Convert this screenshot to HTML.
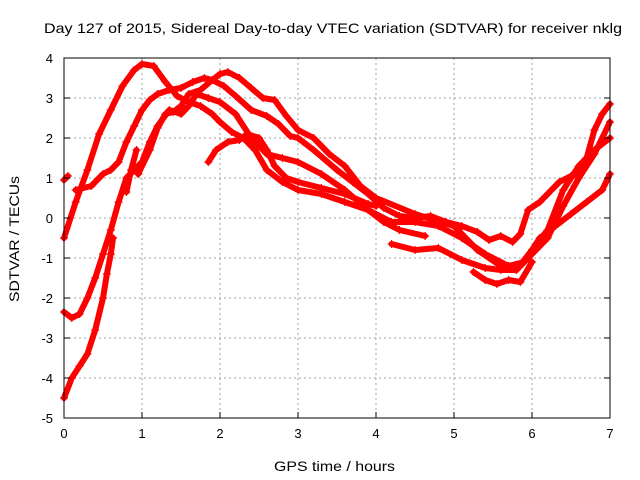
<!DOCTYPE html>
<html><head><meta charset="utf-8"><style>
html,body{margin:0;padding:0;background:#fff}
svg{display:block;font-family:"Liberation Sans",sans-serif}
</style></head><body>
<svg id="chart" width="640" height="480">
<rect width="640" height="480" fill="#fff"/>
<text x="44" y="33" font-size="14" textLength="578" lengthAdjust="spacingAndGlyphs">Day 127 of 2015, Sidereal Day-to-day VTEC variation (SDTVAR) for receiver nklg</text>
<g id="grid"></g>
<g id="series"></g>
<rect x="64" y="58" width="546" height="360" fill="none" stroke="#000" stroke-width="1"/>
<g id="ticks"></g>
<text x="274" y="471" font-size="14" textLength="121" lengthAdjust="spacingAndGlyphs">GPS time / hours</text>
<text x="0" y="0" font-size="14" textLength="126" lengthAdjust="spacingAndGlyphs" transform="translate(19 302) rotate(-90)">SDTVAR / TECUs</text>
</svg>
<script>
const xTicks=[0,1,2,3,4,5,6,7];
const yTicks=[-5,-4,-3,-2,-1,0,1,2,3,4];
const s1=[[0,-0.5],[0.15,0.4],[0.3,1.2],[0.45,2.1],[0.6,2.7],[0.75,3.3],[0.9,3.7],[1.0,3.85],[1.15,3.8],[1.3,3.4],[1.45,3.05],[1.6,2.9],[1.75,2.8],[1.9,2.6],[2.0,2.4],[2.15,2.15],[2.3,2.0],[2.45,1.7],[2.6,1.2],[2.8,0.9],[3.0,0.7],[3.3,0.6],[3.6,0.4],[3.9,0.2],[4.1,-0.1],[4.3,-0.3],[4.63,-0.45]];
const s2=[[0.15,0.7],[0.35,0.8],[0.5,1.1],[0.6,1.2],[0.7,1.4],[0.8,1.9],[0.9,2.3],[1.0,2.7],[1.1,2.95],[1.2,3.1],[1.35,3.2],[1.5,3.25],[1.65,3.4],[1.8,3.5],[1.9,3.45],[2.05,3.3],[2.2,3.05],[2.4,2.7],[2.6,2.55],[2.75,2.35],[2.9,2.05],[3.0,2.0],[3.2,1.7],[3.5,1.2],[3.7,0.9],[3.9,0.6],[4.1,0.25],[4.3,0.05],[4.5,0.0],[4.7,0.05],[4.9,-0.1],[5.1,-0.2],[5.3,-0.35],[5.45,-0.55],[5.6,-0.45],[5.75,-0.6],[5.85,-0.4],[5.95,0.2],[6.1,0.4],[6.2,0.6],[6.35,0.9],[6.5,1.05],[6.6,1.1],[6.7,1.5],[6.8,2.2],[6.9,2.6],[7.0,2.85]];
const s3=[[0.95,1.1],[1.1,1.7],[1.2,2.25],[1.3,2.6],[1.4,2.65],[1.5,2.8],[1.6,3.1],[1.75,3.2],[1.9,3.45],[2.0,3.6],[2.1,3.65],[2.25,3.5],[2.4,3.25],[2.55,3.0],[2.7,2.95],[2.85,2.55],[3.0,2.2],[3.2,2.0],[3.4,1.6],[3.6,1.3],[3.8,0.8],[4.0,0.5],[4.5,0.1],[5.0,-0.2],[5.3,-0.8],[5.6,-1.2],[5.8,-1.3],[6.0,-0.9],[6.2,-0.5],[6.4,0.3],[6.6,1.0],[6.8,1.6],[7.0,2.4]];
const s4=[[0,-2.35],[0.1,-2.5],[0.2,-2.4],[0.3,-2.0],[0.4,-1.5],[0.5,-0.9],[0.6,-0.3],[0.7,0.4],[0.8,1.0],[0.9,1.2],[1.0,1.4],[1.1,1.9],[1.2,2.3],[1.35,2.7],[1.5,2.6],[1.6,2.8],[1.7,3.1],[1.85,3.0],[2.0,2.9],[2.2,2.6],[2.4,2.0],[2.6,1.6],[2.8,1.5],[3.0,1.4],[3.3,1.1],[3.6,0.7],[3.9,0.2],[4.2,-0.1],[4.5,-0.1],[4.8,-0.2],[5.1,-0.5],[5.4,-0.9],[5.7,-1.2],[5.9,-1.1],[6.1,-0.5],[6.3,-0.2],[6.5,0.1],[6.7,0.4],[6.9,0.7],[7.0,1.1]];
const s5=[[0,-4.5],[0.1,-4.0],[0.2,-3.7],[0.3,-3.4],[0.4,-2.8],[0.5,-2.0],[0.55,-1.4],[0.6,-0.9],[0.63,-0.5]];
const s6=[[0.8,0.65],[0.86,1.2],[0.93,1.7]];
const s7=[[1.85,1.4],[1.95,1.7],[2.1,1.9],[2.25,1.95],[2.35,2.1],[2.5,2.0],[2.6,1.7],[2.7,1.3],[2.85,1.0],[3.0,0.9],[3.3,0.75],[3.6,0.6],[3.9,0.35],[4.0,0.3]];
const s8=[[4.2,-0.65],[4.5,-0.8],[4.8,-0.75],[5.1,-1.05],[5.4,-1.25],[5.6,-1.3],[5.8,-1.3],[6.0,-0.8],[6.2,-0.3],[6.4,0.7],[6.6,1.3],[6.8,1.7],[7.0,2.0]];
const s9=[[5.25,-1.35],[5.4,-1.55],[5.55,-1.65],[5.7,-1.55],[5.85,-1.6],[6.0,-1.1]];
const s10=[[0,0.95],[0.05,1.05]];
const allSeries=[s1,s2,s3,s4,s5,s6,s7,s8,s9,s10];

const X0=64,X1=610,Y0=418,Y1=58;
function xs(h){return X0+(h-0)/(7-0)*(X1-X0);}
function ys(v){return Y0-(v-(-5))/(4-(-5))*(Y0-Y1);}
const NS="http://www.w3.org/2000/svg";
const grid=document.getElementById('grid'),ticks=document.getElementById('ticks'),ser=document.getElementById('series');
function mk(tag,attrs,parent){const e=document.createElementNS(NS,tag);for(const k in attrs)e.setAttribute(k,attrs[k]);parent.appendChild(e);return e;}
xTicks.forEach(t=>{
  const x=xs(t);
  if(t>0&&t<7){const g=mk('line',{x1:x,x2:x,y1:Y1,y2:Y0,stroke:'#a0a0a0','stroke-dasharray':'2,3'},grid);
  
  }
  const tl=mk('line',{x1:x,x2:x,y1:Y0,y2:Y0-6,stroke:'#000'},ticks);
  
  
  const tx=mk('text',{x:x,y:Y0+20,'font-size':13,'text-anchor':'middle'},ticks);tx.textContent=t;
  
  
});
yTicks.forEach(t=>{
  const y=ys(t);
  if(t>-5&&t<4){const g=mk('line',{x1:X0,x2:X1,y1:y,y2:y,stroke:'#a0a0a0','stroke-dasharray':'2,3'},grid);
  
  }
  const tl=mk('line',{x1:X0,x2:X0+6,y1:y,y2:y,stroke:'#000'},ticks);
  
  
  const tr=mk('line',{x1:X1,x2:X1-6,y1:y,y2:y,stroke:'#000'},ticks);
  
  
  const tx=mk('text',{x:X0-11,y:y+5,'font-size':13,'text-anchor':'end'},ticks);tx.textContent=t;
  
  
});
allSeries.forEach((s,i)=>{
  const d=s.map((p,j)=>(j?'L':'M')+xs(p[0]).toFixed(1)+' '+ys(p[1]).toFixed(1)).join(' ');
  const path=mk('path',{d:d,fill:'none',stroke:'#ff0000','stroke-width':6,'stroke-linejoin':'round','stroke-linecap':'round'},ser);
  
  
  s.forEach(p=>{
    const x=xs(p[0]),y=ys(p[1]);
    const m=mk('path',{d:`M${x-4} ${y}H${x+4}M${x} ${y-4}V${y+4}`,stroke:'#ff0000','stroke-width':1.2},ser);
    
    
  });
});
</script>
</body></html>
